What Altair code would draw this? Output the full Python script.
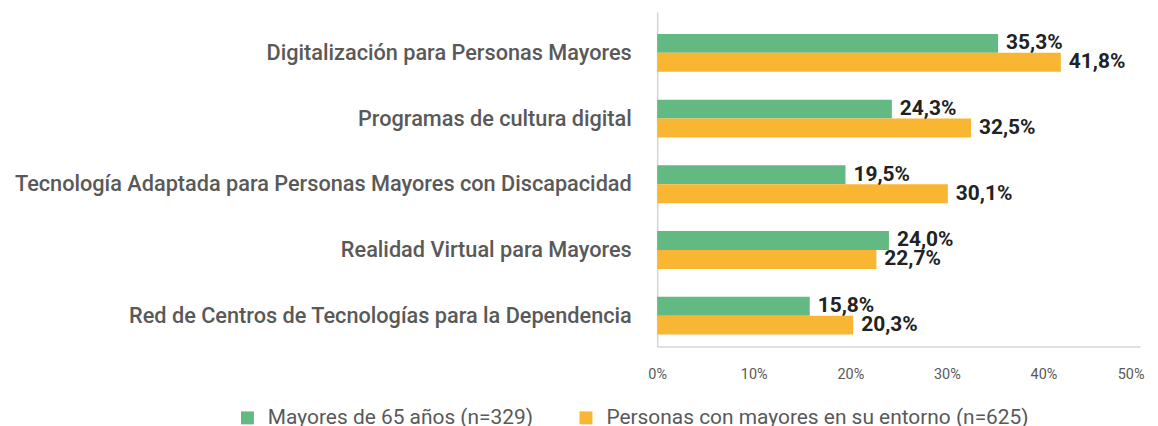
import altair as alt
import pandas as pd

categories = [
    "Digitalización para Personas  Mayores",
    "Programas de cultura digital",
    "Tecnología Adaptada para Personas Mayores con Discapacidad",
    "Realidad Virtual para Mayores",
    "Red de Centros de Tecnologías para la Dependencia",
]
series = ["Mayores de 65 años (n=329)", "Personas con mayores en su entorno (n=625)"]
mayores = [35.3, 24.3, 19.5, 24.0, 15.8]
entorno = [41.8, 32.5, 30.1, 22.7, 20.3]
colors = ["#63B982", "#F9B633"]
x_ticks = [0, 10, 20, 30, 40, 50]

rows = []
for c, a, b in zip(categories, mayores, entorno):
    rows.append({"cat": c, "serie": series[0], "v": a})
    rows.append({"cat": c, "serie": series[1], "v": b})
df = pd.DataFrame(rows)
df["lbl"] = df["v"].map(lambda v: f"{v:.1f}".replace(".", ",") + "%")

FONT = "Roboto"
GRAY = "#595959"

base = alt.Chart(df).encode(
    y=alt.Y(
        "cat:N",
        sort=categories,
        scale=alt.Scale(paddingInner=0.424, paddingOuter=0.258, align=0.65),
        axis=alt.Axis(
            title=None, ticks=False, domain=True, domainColor="#d6d6d6", domainWidth=1.5,
            labelFont=FONT, labelFontSize=21.8, labelFontWeight=500, labelColor=GRAY,
            labelPadding=26, labelLimit=0,
        ),
    ),
    yOffset=alt.YOffset("serie:N", sort=series, scale=alt.Scale(paddingInner=0, paddingOuter=0)),
    x=alt.X(
        "v:Q",
        scale=alt.Scale(domain=[0, 50], nice=False),
        axis=alt.Axis(
            title=None, values=x_ticks, labelExpr="datum.value + '%'", grid=False, ticks=False,
            domainColor="#d6d6d6", domainWidth=1.5, labelPadding=21, labelFontSize=14.5,
            labelColor=GRAY, labelFont=FONT, labelFlush=False,
            labelAlign={"condition": {"test": "datum.value == 50", "value": "right"}, "value": "center"},
            labelOffset={"condition": {"test": "datum.value == 50", "value": 4}, "value": 0},
        ),
    ),
)

bars = base.mark_bar().encode(
    color=alt.Color(
        "serie:N",
        sort=series,
        scale=alt.Scale(domain=series, range=colors),
        legend=alt.Legend(
            title=None, orient="none", legendX=-422, legendY=397, direction="horizontal",
            symbolType="square", symbolSize=169, symbolStrokeWidth=0, symbolOpacity=1,
            labelFont=FONT, labelFontSize=21, labelColor=GRAY, labelOffset=10,
            columnPadding=42, labelLimit=0,
        ),
    )
)

text = base.mark_text(
    align="left", baseline="middle", dx=8, font=FONT, fontWeight="bold",
    fontSize=21, color="#222222",
).encode(text="lbl:N")

chart = (bars + text).properties(
    width=485,
    height=336,
    padding={"left": 652, "top": 3, "right": 10, "bottom": 85},
    autosize=alt.AutoSizeParams(type="none"),
).configure_view(stroke=None)

chart.save("out.html", embed_options={"renderer": "svg", "actions": False})
